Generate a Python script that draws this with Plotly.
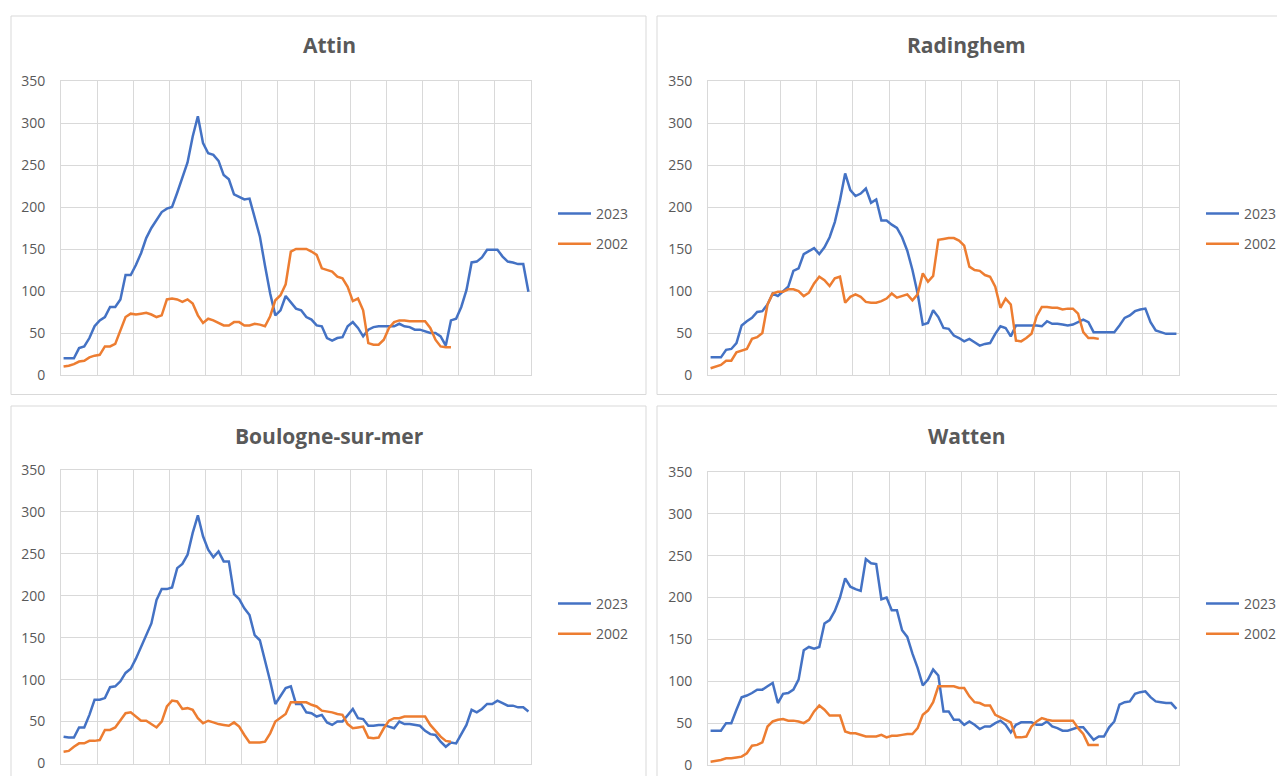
import plotly.graph_objects as go

# ---------------- data (daily values, index = day) ----------------
SERIES_NAMES = ["2023", "2002"]
TITLES = ["Attin", "Radinghem", "Boulogne-sur-mer", "Watten"]
Y_TICKS = [0, 50, 100, 150, 200, 250, 300, 350]

ATTIN_2023 = [20, 20, 20, 32, 34, 44, 58, 65, 69, 81,
              81, 90, 119, 119, 131, 145, 163, 175, 185, 194,
              198, 200, 217, 235, 253, 284, 308, 276, 264, 262,
              255, 238, 233, 215, 212, 209, 210, 186, 165, 130,
              97, 71, 77, 94, 87, 79, 77, 69, 66, 59,
              58, 44, 41, 44, 45, 58, 63, 56, 46, 54,
              57, 58, 58, 58, 58, 61, 58, 57, 54, 54,
              52, 50, 50, 46, 35, 65, 67, 81, 101, 134,
              135, 140, 149, 149, 149, 141, 135, 134, 132, 132,
              99]
ATTIN_2002 = [10, 11, 13, 16, 17, 21, 23, 24, 34, 34,
              37, 54, 69, 73, 72, 73, 74, 72, 69, 71,
              90, 91, 90, 87, 90, 85, 71, 62, 67, 65,
              62, 59, 59, 63, 63, 59, 59, 61, 60, 58,
              70, 89, 95, 108, 147, 150, 150, 150, 147, 143,
              127, 125, 123, 117, 115, 105, 88, 91, 77, 38,
              36, 36, 42, 56, 63, 65, 65, 64, 64, 64,
              64, 56, 42, 34, 33, 33]

RADINGHEM_2023 = [21, 21, 21, 30, 31, 38, 59, 64, 68, 75,
                  76, 84, 97, 94, 99, 105, 124, 127, 144, 148,
                  151, 144, 152, 164, 182, 208, 240, 220, 213, 216,
                  222, 205, 209, 184, 184, 179, 175, 164, 148, 125,
                  97, 60, 62, 77, 69, 56, 55, 47, 44, 40,
                  43, 39, 35, 37, 38, 49, 58, 56, 46, 59,
                  59, 59, 59, 59, 58, 64, 61, 61, 60, 59,
                  60, 63, 66, 63, 51, 51, 51, 51, 51, 59,
                  68, 71, 76, 78, 79, 63, 53, 51, 49, 49,
                  49]
RADINGHEM_2002 = [8, 10, 12, 17, 17, 27, 29, 31, 43, 45,
                  50, 84, 97, 99, 99, 102, 102, 100, 94, 98,
                  109, 117, 113, 106, 115, 117, 86, 93, 96, 93,
                  87, 86, 86, 88, 91, 97, 92, 94, 96, 89,
                  96, 121, 111, 118, 161, 162, 163, 163, 160, 154,
                  129, 125, 124, 119, 117, 105, 80, 91, 84, 41,
                  40, 44, 49, 70, 81, 81, 80, 80, 78, 79,
                  79, 73, 51, 44, 44, 43]

BOULOGNE_2023 = [32, 31, 31, 43, 43, 58, 76, 76, 78, 91,
                 92, 98, 108, 113, 125, 139, 153, 167, 195, 208,
                 208, 210, 233, 238, 249, 275, 296, 271, 255, 246,
                 253, 241, 241, 202, 196, 185, 177, 153, 147, 124,
                 98, 71, 80, 90, 92, 71, 71, 61, 60, 56,
                 58, 49, 46, 50, 50, 57, 65, 54, 53, 45,
                 45, 46, 46, 44, 42, 50, 47, 47, 46, 45,
                 39, 35, 34, 26, 20, 25, 24, 35, 46, 64,
                 61, 65, 71, 71, 75, 72, 69, 69, 67, 67,
                 62]
BOULOGNE_2002 = [14, 15, 20, 24, 24, 27, 27, 28, 40, 40,
                 43, 52, 60, 61, 56, 51, 51, 47, 43, 50,
                 68, 75, 74, 65, 66, 64, 54, 48, 51, 49,
                 47, 46, 45, 49, 44, 34, 25, 25, 25, 26,
                 36, 50, 54, 59, 73, 73, 73, 73, 70, 68,
                 63, 62, 61, 59, 58, 47, 42, 43, 44, 31,
                 30, 31, 42, 51, 54, 54, 56, 56, 56, 56,
                 56, 46, 39, 32, 27, 26]

WATTEN_2023 = [41, 41, 41, 50, 50, 66, 81, 83, 86, 90,
               90, 94, 98, 74, 85, 86, 90, 102, 137, 141,
               139, 141, 169, 173, 184, 200, 223, 213, 210, 208,
               246, 241, 240, 198, 200, 185, 185, 161, 153, 133,
               116, 95, 102, 114, 107, 64, 64, 54, 54, 48,
               52, 48, 43, 46, 46, 50, 53, 48, 39, 48,
               51, 51, 51, 48, 48, 52, 46, 44, 41, 41,
               43, 45, 45, 38, 30, 34, 34, 45, 52, 72,
               75, 76, 85, 87, 88, 81, 76, 75, 74, 74,
               67]
WATTEN_2002 = [4, 5, 6, 8, 8, 9, 10, 14, 23, 24,
               27, 46, 52, 54, 55, 53, 53, 52, 50, 54,
               64, 71, 66, 59, 59, 59, 40, 38, 38, 36,
               34, 34, 34, 36, 33, 35, 35, 36, 37, 37,
               44, 60, 65, 75, 94, 94, 94, 94, 92, 92,
               82, 75, 74, 71, 71, 60, 57, 54, 51, 33,
               33, 34, 46, 52, 56, 54, 53, 53, 53, 53,
               53, 44, 37, 24, 24, 24]

N_DAYS = 91
DAYS = list(range(N_DAYS))

DATA = [(ATTIN_2023, ATTIN_2002), (RADINGHEM_2023, RADINGHEM_2002),
        (BOULOGNE_2023, BOULOGNE_2002), (WATTEN_2023, WATTEN_2002)]

# ---------------- styling / geometry ----------------
W, H = 1285, 776
OFF = 8  # default page body margin
BLUE, ORANGE = "#4472C4", "#ED7D31"
GRID = "#d9d9d9"
TXT = "#595959"
FONT = "Open Sans"


def fx(p):
    return (p - OFF) / W


def fy(p):
    return 1 - (p - OFF) / H


# plot-area pixel boxes on the page (x0, x1, ytop, ybottom)
PLOT = [(61, 531, 81, 375), (708, 1179, 81, 375),
        (61, 531, 470, 763.5), (708, 1179, 472, 765)]
# panel border boxes
BOX = [(11, 646, 16, 394.5), (657, 1310, 16, 394.5),
       (11, 646, 406, 800), (657, 1310, 406, 800)]
TITLE_POS = [(329, 45), (966, 45), (329, 436), (966, 436)]
LEGEND_POS = [(553, 198), (1201, 198), (553, 588), (1201, 588)]

fig = go.Figure()
layout = dict(
    width=W, height=H, margin=dict(l=0, r=0, t=0, b=0, autoexpand=False),
    paper_bgcolor="white", plot_bgcolor="white",
    font=dict(family=FONT, color=TXT, size=14),
    showlegend=True, shapes=[], annotations=[],
)

for k in range(4):
    n = k + 1
    sx = "" if n == 1 else str(n)
    x0, x1, yt, yb = PLOT[k]
    layout["xaxis" + sx] = dict(
        domain=[fx(x0), fx(x1)], anchor="y" + sx,
        range=[-0.5, N_DAYS - 0.5], tick0=-0.5, dtick=7,
        showgrid=True, gridcolor=GRID, gridwidth=1,
        showticklabels=False, ticks="", zeroline=False,
        showline=True, linecolor=GRID, linewidth=1, mirror=True,
        fixedrange=True,
    )
    layout["yaxis" + sx] = dict(
        domain=[fy(yb), fy(yt)], anchor="x" + sx,
        range=[0, 350], tickvals=Y_TICKS,
        showgrid=True, gridcolor=GRID, gridwidth=1,
        ticks="", zeroline=False, ticklabelstandoff=12,
        showline=True, linecolor=GRID, linewidth=1, mirror=True,
        tickfont=dict(family=FONT, size=14, color=TXT),
        fixedrange=True,
    )
    leg = "legend" if n == 1 else "legend" + str(n)
    lx, ly = LEGEND_POS[k]
    layout[leg] = dict(
        x=fx(lx), y=fy(ly), xanchor="left", yanchor="top",
        bgcolor="rgba(0,0,0,0)", borderwidth=0,
        font=dict(family=FONT, size=14, color=TXT),
        traceorder="grouped", tracegroupgap=9, itemwidth=33,
    )
    bx0, bx1, by0, by1 = BOX[k]
    layout["shapes"].append(dict(
        type="rect", xref="paper", yref="paper",
        x0=fx(bx0), x1=fx(bx1), y0=fy(by1), y1=fy(by0),
        line=dict(color=GRID, width=1), fillcolor="rgba(0,0,0,0)", layer="below",
    ))
    tx, ty = TITLE_POS[k]
    layout["annotations"].append(dict(
        text="<b>" + TITLES[k] + "</b>", x=fx(tx), y=fy(ty),
        xref="paper", yref="paper", showarrow=False,
        xanchor="center", yanchor="middle",
        font=dict(family=FONT, size=21, color=TXT),
    ))
    for s, (vals, col) in enumerate(zip(DATA[k], (BLUE, ORANGE))):
        fig.add_trace(go.Scatter(
            x=DAYS[:len(vals)], y=vals, mode="lines",
            name=SERIES_NAMES[s], legendgroup=f"{n}-{s}",
            line=dict(color=col, width=2.5),
            xaxis="x" + sx, yaxis="y" + sx, legend=leg,
            hoverinfo="skip",
        ))

fig.update_layout(**layout)
fig.write_html("out.html")
